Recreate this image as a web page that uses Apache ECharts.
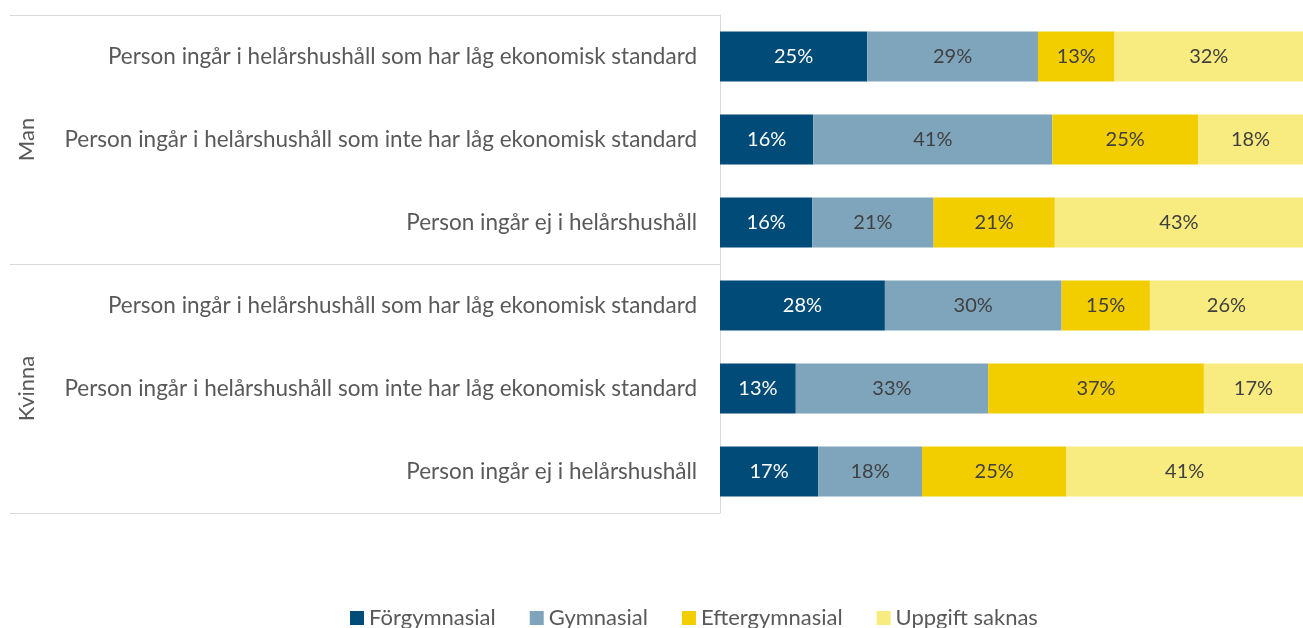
<!DOCTYPE html>
<html>
<head>
<meta charset="utf-8">
<script src="https://cdn.jsdelivr.net/npm/echarts@6/dist/echarts.min.js"></script>
<style>html,body{margin:0;padding:0;background:#fff;}#c{width:1303px;height:628px;}</style>
</head>
<body>
<div id="c"></div>
<script>
const categories = [
  'Person ingår i helårshushåll som har låg ekonomisk standard',
  'Person ingår i helårshushåll som inte har låg ekonomisk standard',
  'Person ingår ej i helårshushåll',
  'Person ingår i helårshushåll som har låg ekonomisk standard',
  'Person ingår i helårshushåll som inte har låg ekonomisk standard',
  'Person ingår ej i helårshushåll'
];
const groups = ['Man', 'Kvinna'];
const seriesNames = ['Förgymnasial', 'Gymnasial', 'Eftergymnasial', 'Uppgift saknas'];
const forgymnasial   = [25, 16, 16, 28, 13, 17];
const gymnasial      = [29, 41, 21, 30, 33, 18];
const eftergymnasial = [13, 25, 21, 15, 37, 25];
const uppgiftSaknas  = [32, 18, 43, 26, 17, 41];

const values = [forgymnasial, gymnasial, eftergymnasial, uppgiftSaknas];
const colors = ['#004b78', '#7fa5bd', '#f2cd00', '#f8eb7f'];
const labelColors = ['#ffffff', '#404040', '#404040', '#404040'];
const FONT = 'Lato';

const rowSums = categories.map((_, i) => values.reduce((s, arr) => s + arr[i], 0));

const series = values.map((arr, k) => ({
  name: seriesNames[k],
  type: 'bar',
  stack: 'total',
  yAxisIndex: 0,
  barWidth: 50,
  itemStyle: { color: colors[k] },
  label: {
    show: true,
    position: 'inside',
    color: labelColors[k],
    fontFamily: FONT,
    fontSize: 20,
    formatter: p => arr[p.dataIndex] + '%'
  },
  emphasis: { disabled: true },
  data: arr.map((v, i) => v / rowSums[i] * 100)
}));

const chart = echarts.init(document.getElementById('c'), null, { renderer: 'canvas' });
chart.setOption({
  animation: false,
  backgroundColor: '#ffffff',
  legend: {
    bottom: -6,
    left: 345,
    itemWidth: 14,
    itemHeight: 14,
    itemGap: 34,
    icon: 'rect',
    textStyle: { fontFamily: FONT, fontSize: 22, color: '#595959' },
    data: seriesNames
  },
  grid: { left: 720, right: 0, top: 15, bottom: 115, containLabel: false },
  xAxis: { type: 'value', min: 0, max: 100, show: false },
  yAxis: [
    {
      type: 'category',
      inverse: true,
      data: categories,
      position: 'left',
      axisLine: { show: true, lineStyle: { color: '#d9d9d9', width: 1 } },
      axisTick: { show: false },
      axisLabel: { margin: 23, fontFamily: FONT, fontSize: 22.5, color: '#595959' },
      splitLine: { show: false }
    },
    {
      type: 'category',
      inverse: true,
      data: groups,
      position: 'left',
      axisLine: { show: false },
      axisTick: { show: true, length: 710, lineStyle: { color: '#d9d9d9', width: 1 } },
      axisLabel: { margin: 682, rotate: 90, fontFamily: FONT, fontSize: 22, color: '#595959' },
      splitLine: { show: false }
    }
  ],
  series: series
});
</script>
</body>
</html>
